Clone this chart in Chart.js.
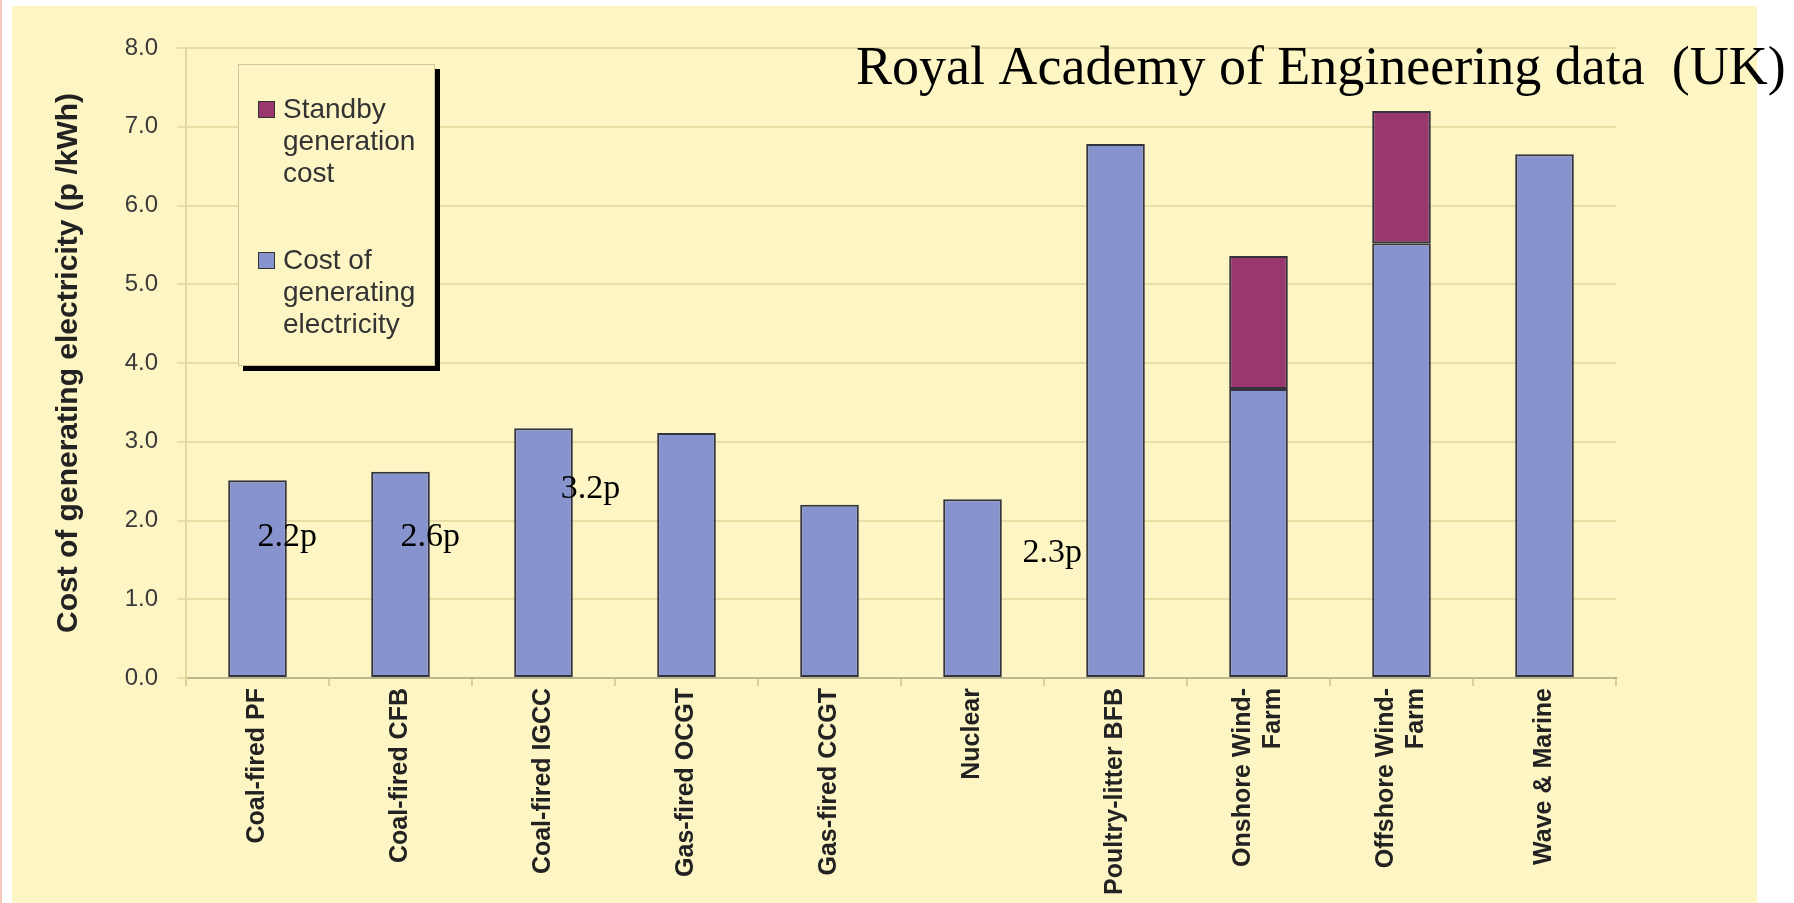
<!DOCTYPE html>
<html>
<head>
<meta charset="utf-8">
<script src="https://cdn.jsdelivr.net/npm/chart.js@4"></script>
<style>
  body { margin: 0; background: #fff; }
  #pink { position: absolute; left: 0; top: 0; width: 2px; height: 903px; background: #f7c6bd; }
  #paper { position: absolute; left: 12px; top: 6px; width: 1745px; height: 897px; background: #fdf6c4; }
  #wrap { position: absolute; left: 0; top: 0; width: 1794px; height: 903px; }
</style>
</head>
<body>
<div id="pink"></div>
<div id="paper"></div>
<div id="wrap"><canvas id="chart" width="1794" height="903"></canvas></div>
<script>
// data (p/kWh)
var categories = ["Coal-fired PF", "Coal-fired CFB", "Coal-fired IGCC", "Gas-fired OCGT", "Gas-fired CCGT",
    "Nuclear", "Poultry-litter BFB", ["Onshore Wind-", "Farm"], ["Offshore Wind-", "Farm"], "Wave & Marine"];
var generatingCost = [2.51, 2.62, 3.17, 3.11, 2.20, 2.27, 6.78, 3.67, 5.52, 6.65];
var standbyCost = [null, null, null, null, null, null, null, 1.69, 1.68, null];
var legendLines = [["Standby", "generation", "cost"], ["Cost of", "generating", "electricity"]];

// the notes written on the chart: text, category position, value of baseline
var noteText = ["2.2p", "2.6p", "3.2p", "2.3p"];
var noteAt = [0, 1, 2.12, 5.35];
var noteValue = [1.68, 1.68, 2.29, 1.47];

var BG = "#fdf6c4";
var SANS = "'Liberation Sans', Arial, sans-serif";
var SERIF = "'Liberation Serif', 'Times New Roman', serif";

var extras = {
    id: "extras",
    beforeDraw: function (chart) {
        // centre the two-line category labels on their tick
        var xs = chart.scales.x;
        xs.getLabelItems().forEach(function (it) {
            if (Array.isArray(it.label) && !it.shifted) {
                it.options.translation[0] -= 15;
                it.shifted = true;
            }
        });
    },
    afterDatasetsDraw: function (chart) {
        var ctx = chart.ctx, area = chart.chartArea;
        var x = chart.scales.x, y = chart.scales.y;
        ctx.save();

        // notes
        ctx.fillStyle = "#000";
        ctx.textBaseline = "alphabetic";
        ctx.textAlign = "left";
        ctx.font = "34px " + SERIF;
        for (var i = 0; i < noteText.length; i++) {
            ctx.fillText(noteText[i], x.getPixelForValue(noteAt[i]), y.getPixelForValue(noteValue[i]));
        }

        // source line
        ctx.font = "54px " + SERIF;
        ctx.fillText("Royal Academy of Engineering data  (UK)", area.right - 760, area.top + 36);

        // legend box with drop shadow
        var lx = area.left + 52, ly = area.top + 16, lw = 197, lh = 302;
        ctx.fillStyle = "#000";
        ctx.fillRect(lx + 5, ly + 5, lw, lh);
        ctx.fillStyle = BG;
        ctx.fillRect(lx, ly, lw, lh);
        ctx.strokeStyle = "#cfc59a";
        ctx.lineWidth = 1;
        ctx.strokeRect(lx + 0.5, ly + 0.5, lw - 1, lh - 1);

        var order = [1, 0];
        ctx.font = "28px " + SANS;
        ctx.textBaseline = "middle";
        order.forEach(function (d, k) {
            var ds = chart.data.datasets[d];
            var top = ly + 46 + k * 151;
            ctx.fillStyle = ds.backgroundColor;
            ctx.fillRect(lx + 20, top - 9, 17, 17);
            ctx.strokeStyle = "#333";
            ctx.strokeRect(lx + 20.5, top - 8.5, 16, 16);
            ctx.fillStyle = "#333";
            legendLines[k].forEach(function (t, j) {
                ctx.fillText(t, lx + 45, top + j * 32);
            });
        });
        ctx.restore();
    }
};

var ctx = document.getElementById("chart");
var costChart = new Chart(ctx, {
    type: "bar",
    data: {
        labels: categories,
        datasets: [{
            label: "Cost of generating electricity",
            data: generatingCost,
            backgroundColor: "#8693cc",
            borderColor: "#34343f",
            borderWidth: 2,
            borderSkipped: false
        },
            {
                label: "Standby generation cost",
                data: standbyCost,
                backgroundColor: "#99386e",
                borderColor: "#34343f",
                borderWidth: 2,
                borderSkipped: false
            }
        ]
    },
    options: {
        responsive: false,
        animation: false,
        devicePixelRatio: 1,
        layout: {padding: {top: 48, right: 178, left: 0, bottom: 0}},
        categoryPercentage: 1,
        barPercentage: 0.41,
        plugins: {legend: {display: false}, tooltip: {enabled: false}},
        scales: {
            x: {
                stacked: true,
                ticks: {
                    autoSkip: false, minRotation: 90, maxRotation: 90, padding: 2,
                    color: "#222", font: {family: SANS, size: 25, weight: "bold"}
                },
                grid: {drawOnChartArea: false, color: "#d9d09c", lineWidth: 2, tickLength: 8},
                border: {color: "#bdb58c", width: 2},
                afterFit: function (s) { s.height = 225; }
            },
            y: {
                stacked: true,
                min: 0,
                max: 8,
                ticks: {
                    stepSize: 1, padding: 19, color: "#3a3a3a",
                    font: {family: SANS, size: 24},
                    callback: function (v) { return v.toFixed(1); }
                },
                grid: {color: "#e8dea6", lineWidth: 2, tickLength: 9},
                border: {color: "#e2d8a0", width: 2},
                title: {
                    display: true,
                    text: "Cost of generating electricity (p /kWh)",
                    color: "#222",
                    font: {family: SANS, size: 30, weight: "bold"},
                    padding: {top: 51, bottom: 0}
                },
                afterFit: function (s) { s.width = 186; }
            }
        }
    },
    plugins: [extras]
});
</script>
</body>
</html>
